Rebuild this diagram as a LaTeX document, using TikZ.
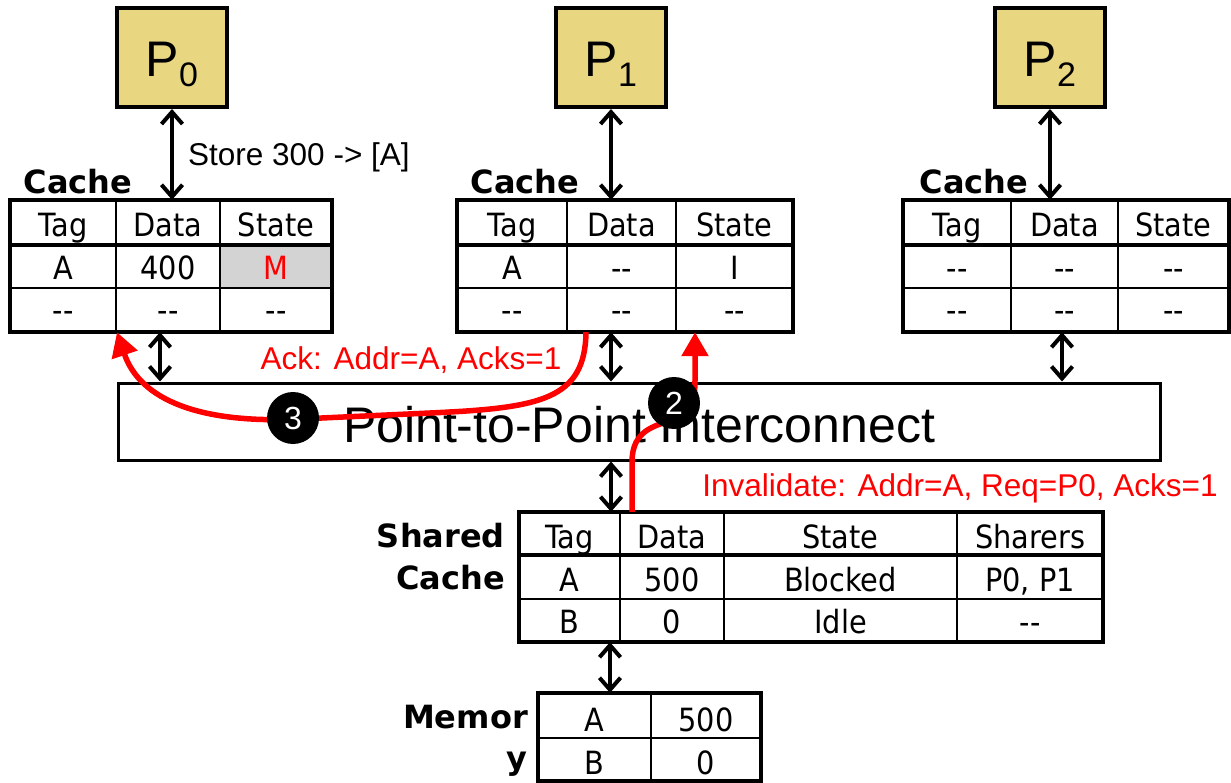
\documentclass[tikz,border=0pt]{standalone}
\usepackage{fontspec}
\setmainfont{Liberation Sans}
\newfontfamily\tabfont{DejaVu Sans}[FakeStretch=0.9]
\newfontfamily\lblfont{DejaVu Sans}
\usetikzlibrary{arrows.meta}
\definecolor{procfill}{RGB}{233,214,129}
\definecolor{cellgrey}{RGB}{211,211,211}
\tikzset{
  proc/.style={draw, line width=4pt, fill=procfill, minimum width=110pt, minimum height=99pt, inner sep=0pt},
  cell/.style={font=\tabfont\fontsize{32}{32}\selectfont, anchor=base, inner sep=0pt},
  boldlbl/.style={font=\lblfont\bfseries\fontsize{32}{32}\selectfont, inner sep=0pt},
  biarrow/.style={line width=4pt, {Straight Barb[length=12pt,width=21pt]}-{Straight Barb[length=12pt,width=21pt]}},
  redarrow/.style={red, line width=5.5pt, -{Triangle[length=24pt,width=26pt]}},
  redtxt/.style={red, font=\fontsize{31.5}{31.5}\selectfont, inner sep=0pt},
  badge/.style={circle, fill=black, minimum size=52pt, inner sep=0pt, text=white, font=\fontsize{32}{32}\selectfont},
}
\newcommand\cachetab[8]{%
  \node[inner sep=0pt, minimum width={#5-#2}, minimum height=132pt] (#1) at ({(#2+#5)/2},266) {};
  \draw[line width=2pt] (#3,200) -- (#3,332) (#4,200) -- (#4,332) (#2,288) -- (#5,288);
  \draw[line width=4pt] (#2,245) -- (#5,245);
  \draw[line width=4pt] (#2,200) rectangle (#5,332);
  \node[cell] (#1-h1) at ({(#2+#3)/2},237) {Tag};
  \node[cell] (#1-h2) at ({(#3+#4)/2},237) {Data};
  \node[cell] (#1-h3) at ({(#4+#5)/2},237) {State};
  \node[cell] (#1-a1) at ({(#2+#3)/2},280) {#6};
  \node[cell] (#1-a2) at ({(#3+#4)/2},280) {#7};
  \node[cell] (#1-a3) at ({(#4+#5)/2},280) {#8};
  \node[cell] (#1-b1) at ({(#2+#3)/2},322) {-{}-};
  \node[cell] (#1-b2) at ({(#3+#4)/2},322) {-{}-};
  \node[cell] (#1-b3) at ({(#4+#5)/2},322) {-{}-};
}
\begin{document}
\begin{tikzpicture}[x=1pt,y=-1pt]
\useasboundingbox (0,0) rectangle (1231,783);

% processors
\node[proc] (p0) at (172,57.5) {};
\node[proc] (p1) at (611,57.5) {};
\node[proc] (p2) at (1050,57.5) {};
\foreach \n/\x in {0/172,1/611,2/1050}{
  \node[inner sep=0pt] (p\n t) at (\x,64) {\fontsize{50}{50}\selectfont P\raisebox{-10pt}{\fontsize{34}{34}\selectfont\n}};
}

% private caches
\fill[cellgrey] (220,245) rectangle (332,288);
\cachetab{c0}{10}{116}{220}{332}{A}{400}{\textcolor{red}{M}}
\cachetab{c1}{457}{567}{676}{793}{A}{-{}-}{I}
\cachetab{c2}{903}{1011}{1118}{1229}{-{}-}{-{}-}{-{}-}
\node[boldlbl] (l0) at (78,182) {Cache};
\node[boldlbl] (l1) at (525,182) {Cache};
\node[boldlbl] (l2) at (974,182) {Cache};

% processor-cache links
\draw[biarrow] (p0.south) -- (p0.south |- c0.north);
\draw[biarrow] (p1.south) -- (p1.south |- c1.north);
\draw[biarrow] (p2.south) -- (p2.south |- c2.north);
\node[anchor=west, inner sep=0pt, font=\fontsize{31.5}{31.5}\selectfont] (st) at (188,157) {Store 300 -> [A]};

% interconnect
\node[draw, line width=3pt, minimum width=1042pt, minimum height=77pt, inner sep=0pt] (ic) at (639,421.5) {};
\node[inner sep=0pt, font=\fontsize{50}{50}\selectfont] (ict) at (639,425) {Point-to-Point Interconnect};

\draw[biarrow] ([xshift=-11pt]c0.south) -- ([xshift=-11pt]c0.south |- ic.north);
\draw[biarrow] ([xshift=-14pt]c1.south) -- ([xshift=-14pt]c1.south |- ic.north);
\draw[biarrow] ([xshift=-4pt]c2.south) -- ([xshift=-4pt]c2.south |- ic.north);

% shared cache
\node[inner sep=0pt, minimum width=584pt, minimum height=130pt] (sc) at (811,577) {};
\draw[line width=2pt] (620,512) -- (620,642) (724,512) -- (724,642) (957,512) -- (957,642) (519,599) -- (1103,599);
\draw[line width=4pt] (519,555) -- (1103,555);
\draw[line width=4pt] (519,512) rectangle (1103,642);
\node[cell] (s-h1) at (569.5,548) {Tag};
\node[cell] (s-h2) at (672,548) {Data};
\node[cell] (s-h3) at (840.5,548) {State};
\node[cell] (s-h4) at (1030,548) {Sharers};
\node[cell] (s-a1) at (569.5,591) {A};
\node[cell] (s-a2) at (672,591) {500};
\node[cell] (s-a3) at (840.5,591) {Blocked};
\node[cell] (s-a4) at (1030,591) {P0, P1};
\node[cell] (s-b1) at (569.5,633) {B};
\node[cell] (s-b2) at (672,633) {0};
\node[cell] (s-b3) at (840.5,633) {Idle};
\node[cell] (s-b4) at (1030,633) {-{}-};
\node[boldlbl, anchor=east] (sl1) at (505,536) {Shared};
\node[boldlbl, anchor=east] (sl2) at (505,578) {Cache};

\draw[biarrow] ([xshift=-28pt]ic.south) -- ([xshift=-28pt]ic.south |- sc.north);

% memory
\node[inner sep=0pt, minimum width=223pt, minimum height=88pt] (mem) at (649.5,737) {};
\draw[line width=2pt] (651,693) -- (651,781) (538,738) -- (761,738);
\draw[line width=4pt] (538,693) rectangle (761,781);
\node[cell] (m-a1) at (594.5,731) {A};
\node[cell] (m-a2) at (706,731) {500};
\node[cell] (m-b1) at (594.5,774) {B};
\node[cell] (m-b2) at (706,774) {0};
\node[boldlbl, anchor=east] (ml1) at (528,717) {Memor};
\node[boldlbl, anchor=east] (ml2) at (528,764) {y};

\draw[biarrow] ([xshift=-39.5pt]mem.north) -- ([xshift=-39.5pt]mem.north |- sc.south);

% red messages
\coordinate (ackS) at ([xshift=-39pt]c1.south);
\coordinate (ackE) at ([xshift=-54pt]c0.south);
\draw[redarrow] (ackS) .. controls (585,400) and (540,408) .. (430,413) -- (300,419) .. controls (200,424) and (140,400) .. (ackE);
\coordinate (invS) at ([xshift=-179pt]sc.north);
\coordinate (invE) at ([xshift=70pt]c1.south);
\draw[redarrow] (invS) -- (632,462) .. controls (632,430) and (655,426) .. (672,420) .. controls (692,412) and (695,400) .. (695,380) -- (invE);
\node[redtxt] (ackt) at (411,360) {Ack: Addr=A, Acks=1};
\node[redtxt] (invt) at (960,488) {Invalidate: Addr=A, Req=P0, Acks=1};

\node[badge] (b3) at (293,418) {3};
\node[badge] (b2) at (674,403) {2};
\end{tikzpicture}
\end{document}
